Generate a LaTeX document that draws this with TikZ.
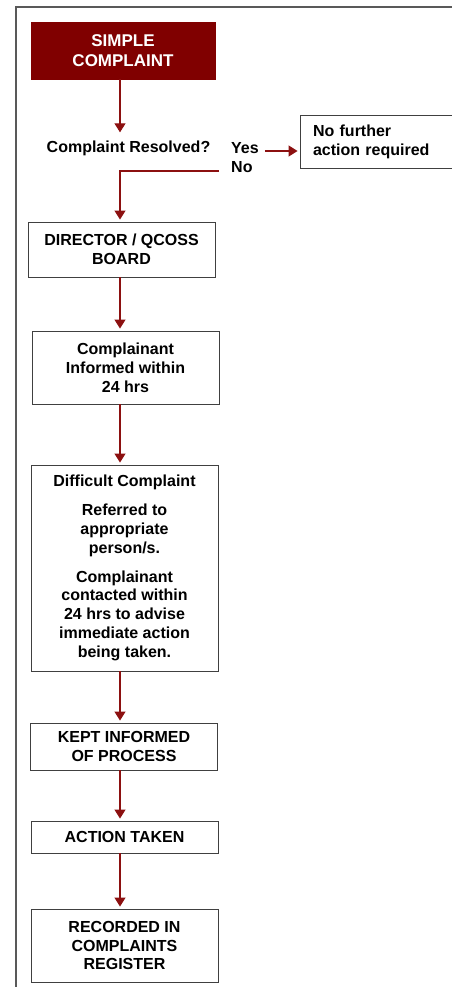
\documentclass[tikz,border=0pt]{standalone}
\usepackage{fontspec}
\setmainfont{Liberation Sans}
\usetikzlibrary{arrows.meta,positioning}
\definecolor{maroonfill}{RGB}{128,0,0}
\definecolor{flowred}{RGB}{140,16,16}
\tikzset{
  box/.style   = {draw=black!75, line width=0.9pt, fill=white, align=center,
                  minimum width=187pt, inner sep=0pt,
                  font=\bfseries\fontsize{16}{18.8}\selectfont},
  label/.style = {inner sep=0pt, font=\bfseries\fontsize{16}{18.8}\selectfont},
  flow/.style  = {-{Triangle[length=9pt,width=11pt]}, flowred, line width=1.1pt,
                  shorten >=2pt},
  frame/.style = {black!65, line width=1.2pt},
}
\begin{document}
\begin{tikzpicture}[x=1pt,y=-1pt]
  \useasboundingbox (0,0) rectangle (452,987);
  \draw[frame] (16,987) -- (16,7) -- (452,7);
  \coordinate (spine) at (120,0);
  % main column
  \node[box, fill=maroonfill, draw=maroonfill, text=white, minimum width=184pt,
        minimum height=57pt, font=\bfseries\fontsize{17}{20}\selectfont]
        (simple) at (123,50.5) {SIMPLE\\COMPLAINT};
  \node[label] (resolved) at (128.5,148) {Complaint Resolved?};
  \node[label, anchor=west] (yes) at (231,148) {Yes};
  \node[label, anchor=west] (no) at (231,167) {No};
  \node[box, minimum width=152pt, minimum height=53pt, text width=126pt, align=left,
        inner xsep=13pt] (nofurther) at (376,141.5) {No further\\action required};
  \node[box, minimum height=55pt] (director) at (121.5,249.5) {DIRECTOR / QCOSS\\BOARD};
  \node[box, minimum height=73pt] (informed) at (125.5,367.5) {Complainant\\Informed within\\24 hrs};
  \node[box, minimum height=206pt] (difficult) at (124.5,568)
    {Difficult Complaint\\[10pt]Referred to\\appropriate\\person/s.\\[10pt]Complainant\\contacted within\\24 hrs to advise\\immediate action\\being taken.};
  \node[box, minimum height=47pt] (kept) at (124,746.5) {KEPT INFORMED\\OF PROCESS};
  \node[box, minimum height=32pt] (action) at (124.5,837) {ACTION TAKEN};
  \node[box, minimum height=73pt] (recorded) at (124.5,945.5) {RECORDED IN\\COMPLAINTS\\REGISTER};
  % connectors
  \draw[flow] (simple.south -| spine) -- ([yshift=6pt]resolved.north -| spine);
  \draw[flow, shorten <=6pt] ([yshift=-3pt]yes.east) -- ([yshift=-3pt]yes.east -| nofurther.west);
  \draw[flow, shorten <=12pt] ([yshift=-4pt]no.west) -| (director.north -| spine);
  \draw[flow] (director.south -| spine) -- (informed.north -| spine);
  \draw[flow] (informed.south -| spine) -- (difficult.north -| spine);
  \draw[flow] (difficult.south -| spine) -- (kept.north -| spine);
  \draw[flow] (kept.south -| spine) -- (action.north -| spine);
  \draw[flow] (action.south -| spine) -- (recorded.north -| spine);
\end{tikzpicture}
\end{document}
